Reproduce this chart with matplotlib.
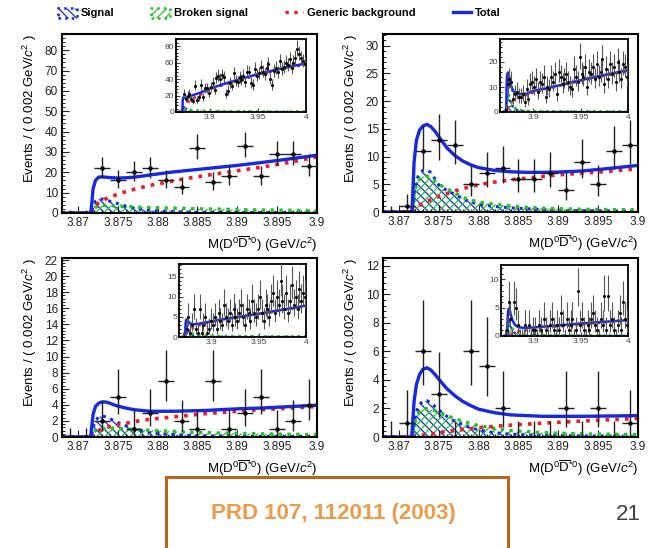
import numpy as np
import matplotlib
matplotlib.use("Agg")
import matplotlib.pyplot as plt
import matplotlib.patches as mpatches
from matplotlib.lines import Line2D
from matplotlib.ticker import MultipleLocator, AutoMinorLocator

plt.rcParams.update({
    "font.family": "Liberation Sans",
    "mathtext.fontset": "custom",
    "mathtext.rm": "Liberation Sans",
    "mathtext.it": "Liberation Sans:italic",
    "mathtext.bf": "Liberation Sans:bold",
    "hatch.linewidth": 0.9,
})

BLUE = "#1428e6"
RED = "#ee1c24"
GREEN = "#22c322"

# ---- fit curves (knots) ----
XK = [3.868, 3.8716, 3.8717, 3.8719, 3.8722, 3.8726, 3.873, 3.8735, 3.874, 3.8745,
      3.875, 3.876, 3.877, 3.878, 3.879, 3.880, 3.882, 3.884, 3.886, 3.888,
      3.890, 3.893, 3.896, 3.900, 3.920, 3.950, 3.975, 4.000]

TOT_1 = [0, 0, 3, 12, 16, 17.6, 17.8, 17.6, 17.4, 17.3, 17.2, 17.3, 17.6, 18.1, 18.7, 19.2,
         20.2, 21.0, 21.8, 22.6, 23.4, 24.8, 26.3, 28.4, 36, 46, 53, 59]
BKG_1 = [0, 0, 0, 1.5, 3.5, 5, 6, 7, 7.8, 8.5, 9.2, 10.5, 11.6, 12.6, 13.5, 14.3,
         15.8, 17.2, 18.4, 19.6, 20.8, 22.5, 24.5, 27.6, 35, 45, 52, 58]
SIG_1 = [0, 0, 0, 3.5, 5.8, 6.8, 6.9, 6.4, 5.8, 5.2, 4.6, 3.4, 2.5, 1.8, 1.3, 1.0,
         0.6, 0.45, 0.35, 0.3, 0.25, 0.2, 0.18, 0.15, 0.1, 0.07, 0.05, 0.04]
BRK_1 = [0, 0, 0, 1.5, 2.8, 3.5, 3.7, 3.7, 3.6, 3.5, 3.4, 3.2, 3.0, 2.8, 2.7, 2.6,
         2.4, 2.2, 2.0, 1.9, 1.7, 1.5, 1.4, 1.2, 0.9, 0.6, 0.5, 0.4]

TOT_2 = [0, 0, 2, 9, 13, 14.8, 15.5, 15.8, 15.4, 14.6, 13.6, 11.6, 10.2, 9.2, 8.5, 8.0,
         7.5, 7.25, 7.15, 7.15, 7.2, 7.4, 7.8, 8.4, 10, 12.7, 14.8, 16.7]
BKG_2 = [0, 0, 0, 0.4, 0.8, 1.2, 1.5, 1.9, 2.2, 2.5, 2.8, 3.3, 3.8, 4.2, 4.6, 4.9,
         5.4, 5.8, 6.1, 6.4, 6.7, 7.0, 7.3, 7.8, 9.8, 12.5, 14.6, 16.4]
SIG_2 = [0, 0, 0, 3.5, 5.8, 7.0, 7.5, 7.6, 7.1, 6.0, 4.9, 3.9, 3.2, 2.4, 1.8, 1.4,
         1.0, 0.75, 0.6, 0.45, 0.35, 0.25, 0.2, 0.15, 0.1, 0.07, 0.05, 0.04]
BRK_2 = [0, 0, 0, 3, 5, 6.0, 6.4, 6.5, 6.2, 5.6, 5.0, 4.2, 3.5, 2.6, 2.2, 1.8,
         1.4, 1.1, 0.85, 0.7, 0.6, 0.5, 0.45, 0.4, 0.3, 0.25, 0.2, 0.2]

TOT_3 = [0, 0, 1, 2.8, 3.8, 4.2, 4.35, 4.35, 4.2, 4.0, 3.85, 3.6, 3.4, 3.3, 3.2, 3.2,
         3.2, 3.25, 3.3, 3.4, 3.5, 3.6, 3.75, 3.95, 4.7, 5.8, 6.8, 7.8]
BKG_3 = [0, 0, 0, 0.3, 0.6, 0.8, 1.0, 1.15, 1.3, 1.4, 1.5, 1.7, 1.9, 2.05, 2.2, 2.3,
         2.5, 2.7, 2.9, 3.05, 3.2, 3.4, 3.55, 3.8, 4.6, 5.7, 6.7, 7.7]
SIG_3 = [0, 0, 0, 1.2, 2.0, 2.5, 2.6, 2.5, 2.3, 2.0, 1.8, 1.4, 1.0, 0.75, 0.55, 0.45,
         0.3, 0.2, 0.15, 0.12, 0.1, 0.08, 0.07, 0.06, 0.04, 0.03, 0.02, 0.02]
BRK_3 = [0, 0, 0, 0.5, 0.8, 1.0, 1.05, 1.1, 1.1, 1.1, 1.05, 1.0, 0.95, 0.9, 0.85, 0.8,
         0.7, 0.6, 0.55, 0.5, 0.45, 0.4, 0.35, 0.3, 0.25, 0.2, 0.15, 0.15]

TOT_4 = [0, 0, 0.8, 2.5, 3.7, 4.4, 4.75, 4.85, 4.7, 4.4, 4.05, 3.4, 2.9, 2.5, 2.2, 1.95,
         1.7, 1.55, 1.5, 1.45, 1.45, 1.45, 1.47, 1.5, 1.8, 2.2, 2.5, 2.8]
BKG_4 = [0, 0, 0, 0.03, 0.07, 0.1, 0.13, 0.17, 0.2, 0.25, 0.3, 0.38, 0.45, 0.52, 0.58, 0.65,
         0.75, 0.83, 0.9, 0.97, 1.03, 1.12, 1.2, 1.3, 1.6, 2.05, 2.4, 2.7]
SIG_4 = [0, 0, 0, 1.0, 1.8, 2.3, 2.5, 2.55, 2.4, 2.15, 1.9, 1.45, 1.1, 0.85, 0.65, 0.5,
         0.3, 0.2, 0.15, 0.12, 0.1, 0.08, 0.07, 0.06, 0.04, 0.03, 0.02, 0.02]
BRK_4 = [0, 0, 0, 0.8, 1.4, 1.8, 1.95, 2.0, 1.95, 1.85, 1.75, 1.5, 1.3, 1.1, 0.95, 0.8,
         0.6, 0.45, 0.38, 0.3, 0.27, 0.22, 0.2, 0.17, 0.13, 0.1, 0.08, 0.07]

# ---- data: events per 0.002 GeV bin, 3.868 - 4.0 ----
BIN_X = np.arange(3.869, 4.0, 0.002)
N1 = [0, 0, 22, 16, 20, 22, 16, 13, 32, 15, 18, 33, 18, 29, 29, 23,
      30, 35, 27, 41, 44, 40, 45, 42, 22, 26, 35, 32, 47, 38, 37, 42, 39, 44, 36, 49,
      48, 35, 33, 52, 44, 47, 55, 49, 46, 53, 58, 40, 33, 50, 54, 48, 62, 52, 55, 60,
      57, 64, 53, 60, 66, 77, 71, 65, 62, 58]
N2 = [0, 1, 11, 13, 12, 5, 7, 8, 6, 6, 7, 4, 9, 5, 11, 12,
      10, 13, 8, 12, 11, 14, 6, 10, 9, 14, 12, 15, 7, 16, 14, 11, 13, 15, 12, 10,
      9, 17, 14, 12, 22, 15, 14, 18, 10, 16, 15, 18, 13, 19, 14, 16, 21, 11, 17, 13,
      19, 15, 18, 12, 20, 16, 13, 19, 18, 14]
N3 = [0, 0, 2, 5, 1, 3, 7, 2, 1, 7, 1, 3, 5, 1, 2, 4,
      3, 5, 2, 6, 4, 3, 8, 5, 4, 6, 3, 7, 5, 4, 6, 8, 5, 3, 7, 6,
      4, 9, 6, 5, 7, 10, 6, 4, 8, 7, 5, 9, 11, 6, 10, 8, 14, 9, 7, 11,
      6, 9, 13, 8, 10, 7, 12, 9, 11, 10]
N4 = [0, 1, 6, 3, 0, 6, 5, 2, 0, 0, 0, 2, 0, 2, 0, 1,
      1, 0, 2, 1, 0, 3, 1, 0, 2, 3, 1, 0, 2, 1, 4, 2, 0, 3, 1, 2,
      3, 0, 1, 8, 2, 3, 1, 0, 2, 1, 3, 4, 2, 1, 0, 3, 2, 7, 1, 7,
      2, 3, 1, 0, 2, 4, 1, 6, 3, 2]

X_TICKS = [3.87, 3.875, 3.88, 3.885, 3.89, 3.895, 3.9]
X_TICKLABELS = ["3.87", "3.875", "3.88", "3.885", "3.89", "3.895", "3.9"]
IN_XTICKS = [3.9, 3.95, 4.0]
IN_XTICKLABELS = ["3.9", "3.95", "4"]

YLABEL = r"Events / ( 0.002 GeV/$c^{2}$ )"
XLABEL = r"M(D$^{0}\overline{\mathrm{D}}^{*0}$) (GeV/$c^{2}$)"


def poisson_err(n):
    n = np.asarray(n, float)
    nn = np.where(n > 0, n, 1.0)
    lo = np.where(n > 0, nn - nn * (1 - 1 / (9 * nn) - 1 / (3 * np.sqrt(nn))) ** 3, 0.0)
    hi = np.where(n > 0, 1 + np.sqrt(nn + 0.75), 1.147)
    return lo, hi


def draw_fit(ax, sig, brk, bkg, tot, lw):
    ax.fill_between(XK, 0, sig, facecolor="none", edgecolor=BLUE,
                    hatch="\\\\\\\\", linewidth=0)
    ax.fill_between(XK, 0, brk, facecolor="none", edgecolor=GREEN,
                    hatch="////", linewidth=0)
    ax.plot(XK, sig, ls=":", color=BLUE, lw=lw * 0.9)
    ax.plot(XK, brk, ls=":", color=GREEN, lw=lw)
    ax.plot(XK, bkg, ls=":", color=RED, lw=lw * 1.1)
    ax.plot(XK, tot, color=BLUE, lw=lw)


def style_axes(ax, lw):
    for s in ax.spines.values():
        s.set_linewidth(lw)
    ax.tick_params(which="both", direction="in", top=False, right=False)


fig = plt.figure(figsize=(6.48, 5.48), dpi=100)
W, H = 648.0, 548.0

panels = [
    # main rect (px l, t, r, b), inset rect, ylim, ystep, inset ylim, inset ystep, data
    ((62, 34, 317, 213), (176, 39, 306, 112), 88, 10, 88.6, 20, N1, SIG_1, BRK_1, BKG_1, TOT_1),
    ((383, 34, 638, 212), (500, 39, 628, 112), 32.1, 5, 29.2, 10, N2, SIG_2, BRK_2, BKG_2, TOT_2),
    ((62, 258, 317, 437), (179, 264, 306, 337), 22.25, 2, 18.2, 5, N3, SIG_3, BRK_3, BKG_3, TOT_3),
    ((383, 258, 638, 437), (501, 265, 628, 336), 12.55, 2, 12.5, 5, N4, SIG_4, BRK_4, BKG_4, TOT_4),
]

for (m, ins, ytop, ystep, iytop, iystep, counts, sig, brk, bkg, tot) in panels:
    ax = fig.add_axes([m[0] / W, 1 - m[3] / H, (m[2] - m[0]) / W, (m[3] - m[1]) / H])
    draw_fit(ax, sig, brk, bkg, tot, 2.4)
    n = np.array(counts[:16], float)
    lo, hi = poisson_err(n)
    ax.errorbar(BIN_X[:16], n, xerr=0.001, yerr=[lo, hi], fmt="o", ms=2.2,
                color="black", ecolor="#222222", elinewidth=1.0, capsize=0, zorder=5)
    ax.set_xlim(3.868, 3.9)
    ax.set_ylim(0, ytop)
    ax.set_xticks(X_TICKS)
    ax.set_xticklabels(X_TICKLABELS)
    ax.xaxis.set_minor_locator(MultipleLocator(0.001))
    ax.yaxis.set_major_locator(MultipleLocator(ystep))
    ax.yaxis.set_minor_locator(AutoMinorLocator(5))
    style_axes(ax, 1.5)
    ax.tick_params(which="major", length=5, labelsize=8.5, pad=3, colors="#222222")
    ax.tick_params(which="minor", length=2.5)
    ax.set_ylabel(YLABEL, loc="top", fontsize=9.5, labelpad=4)
    ax.set_xlabel(XLABEL, loc="right", fontsize=9.5, labelpad=4)

    iax = fig.add_axes([ins[0] / W, 1 - ins[3] / H, (ins[2] - ins[0]) / W, (ins[3] - ins[1]) / H])
    draw_fit(iax, sig, brk, bkg, tot, 1.8)
    na = np.array(counts, float)
    lo, hi = poisson_err(na)
    iax.errorbar(BIN_X, na, xerr=0.001, yerr=[lo, hi], fmt="o", ms=1.2,
                 color="black", ecolor="#555555", elinewidth=0.8, capsize=0, zorder=5)
    iax.set_xlim(3.865, 4.0)
    iax.set_ylim(0, iytop)
    iax.set_xticks(IN_XTICKS)
    iax.set_xticklabels(IN_XTICKLABELS)
    iax.xaxis.set_minor_locator(MultipleLocator(0.01))
    iax.yaxis.set_major_locator(MultipleLocator(iystep))
    iax.yaxis.set_minor_locator(AutoMinorLocator(5))
    style_axes(iax, 1.3)
    iax.tick_params(which="major", length=3, labelsize=6, pad=1.5, colors="#444444")
    iax.tick_params(which="minor", length=1.5)

# ---- legend across the top ----
handles = [
    mpatches.Patch(facecolor="white", edgecolor=BLUE, hatch="\\\\\\\\", linestyle=":", linewidth=1.8),
    mpatches.Patch(facecolor="white", edgecolor=GREEN, hatch="////", linestyle=":", linewidth=1.8),
    Line2D([], [], color=RED, ls=":", lw=2.4),
    Line2D([], [], color=BLUE, lw=2.4),
]
labels = ["Signal", "Broken signal", "Generic background", "Total"]
fig.legend(handles, labels, loc="center left", bbox_to_anchor=(48 / W, 1 - 13 / H),
           ncol=4, frameon=False, prop={"size": 8, "weight": "bold"},
           handlelength=1.7, handleheight=1.0, handletextpad=0.35, columnspacing=3.3)

# ---- reference box and page number ----
fig.add_artist(mpatches.Rectangle((166 / W, -0.05), (508 - 166) / W, (548 - 477) / H + 0.05,
                                  transform=fig.transFigure, fill=False,
                                  edgecolor="#b8651a", linewidth=2.2))
fig.text(333 / W, 1 - 514 / H, "PRD 107, 112011 (2003)", ha="center", va="center",
         fontsize=16, fontweight="bold", color="#ee9a48")
fig.text(628 / W, 1 - 514 / H, "21", ha="center", va="center", fontsize=16, color="#404040")

fig.savefig("out.png", dpi=100)
